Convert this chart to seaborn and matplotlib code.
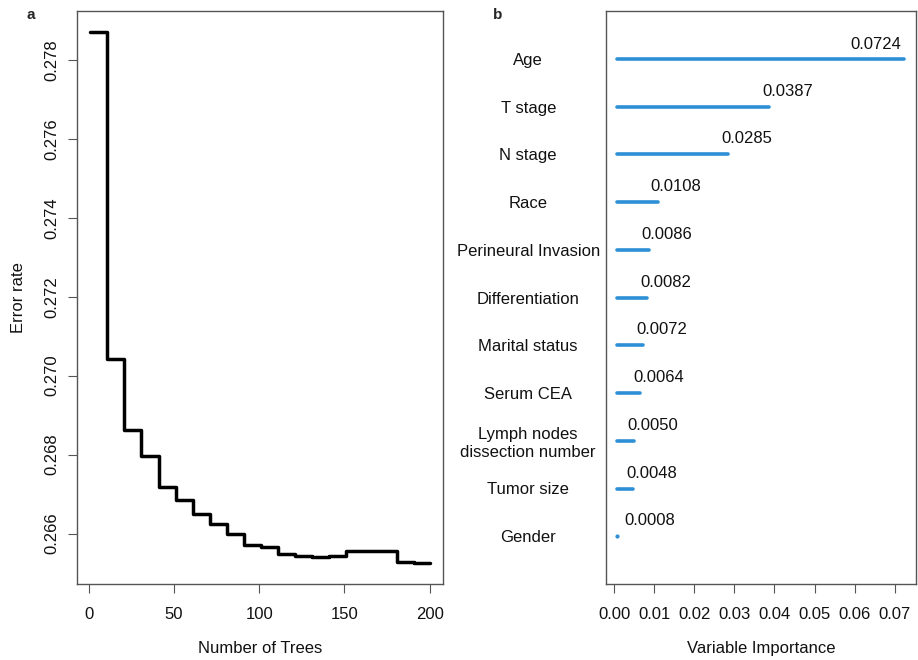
import numpy as np
import pandas as pd
import matplotlib
matplotlib.use("Agg")
import matplotlib.pyplot as plt
import seaborn as sns

# ---- data: panel a (error rate vs number of trees, step changes) ----
trees = [1, 11, 21, 31, 41, 51, 61, 71, 81, 91, 101, 111, 121, 131, 141,
         151, 161, 171, 181, 191, 200]
error_rate = [0.27870, 0.27042, 0.26862, 0.26797, 0.26719, 0.26684, 0.26650,
              0.26625, 0.26599, 0.26570, 0.26565, 0.26548, 0.26544, 0.26540,
              0.26543, 0.26557, 0.26557, 0.26555, 0.26529, 0.26526, 0.26526]
x_ticks_a = [0, 50, 100, 150, 200]
y_ticks_a = [0.266, 0.268, 0.270, 0.272, 0.274, 0.276, 0.278]

# ---- data: panel b (variable importance) ----
variables = ["Age", "T stage", "N stage", "Race", "Perineural Invasion",
             "Differentiation", "Marital status", "Serum CEA",
             "Lymph nodes\ndissection number", "Tumor size", "Gender"]
importance = [0.0724, 0.0387, 0.0285, 0.0108, 0.0086, 0.0082, 0.0072,
              0.0064, 0.0050, 0.0048, 0.0008]
x_ticks_b = [0.00, 0.01, 0.02, 0.03, 0.04, 0.05, 0.06, 0.07]

sns.set_theme(style="white")
plt.rcParams["font.family"] = ["Liberation Sans", "DejaVu Sans"]
plt.rcParams["font.size"] = 12

fig = plt.figure(figsize=(9.18, 6.6), dpi=100)
W, H = 918, 660

def ax_rect(x0, y0, x1, y1):
    return [x0 / W, (H - y1) / H, (x1 - x0) / W, (y1 - y0) / H]

frame_col = "#555555"
BLUE = "#2D8FD5"

# ---------------- panel a ----------------
axa = fig.add_axes(ax_rect(76.7, 11, 443.3, 584))
df_a = pd.DataFrame({"trees": trees, "err": error_rate})
sns.lineplot(data=df_a, x="trees", y="err", ax=axa, color="black",
             linewidth=2.5, drawstyle="steps-post", estimator=None)
xmin, xmax = 1, 200
r = xmax - xmin
axa.set_xlim(xmin - 0.04 * r, xmax + 0.04 * r)
ymin, ymax = min(error_rate), max(error_rate)
r = ymax - ymin
axa.set_ylim(ymin - 0.04 * r, ymax + 0.04 * r)
axa.set_xticks(x_ticks_a)
axa.set_xticklabels([str(v) for v in x_ticks_a])
axa.set_yticks(y_ticks_a)
axa.set_yticklabels([f"{v:.3f}" for v in y_ticks_a], rotation=90, va="center")
axa.tick_params(axis="both", which="major", length=6.5, width=0.8,
                color=frame_col, labelsize=12, labelcolor="#111111",
                direction="out", bottom=True, left=True)
axa.tick_params(axis="x", pad=10)
axa.tick_params(axis="y", pad=6)
axa.set_xlabel("Number of Trees", fontsize=12, labelpad=14, color="#111111")
axa.set_ylabel("Error rate", fontsize=12, labelpad=13, color="#111111")
for s in axa.spines.values():
    s.set_color(frame_col)
    s.set_linewidth(1.0)
axa.grid(False)

# ---------------- panel b ----------------
axb = fig.add_axes(ax_rect(606, 11, 915.7, 584))
pos = np.arange(1, len(variables) + 1)
base = min(importance)
lc = axb.hlines(pos, base, importance, color=BLUE, linewidth=2.6)
lc.set_capstyle("round")
axb.scatter([importance[-1]], [pos[-1]], s=4, color=BLUE, zorder=3)
xmin, xmax = min(importance), max(importance)
r = xmax - xmin
axb.set_xlim(xmin - 0.04 * r, xmax + 0.04 * r)
axb.set_ylim(len(variables) + 1, 0)
axb.set_xticks(x_ticks_b)
axb.set_xticklabels([f"{v:.2f}" for v in x_ticks_b])
axb.set_yticks(pos)
axb.set_yticklabels(variables)
for lab in axb.get_yticklabels():
    lab.set_horizontalalignment("center")
    lab.set_multialignment("center")
axb.tick_params(axis="y", length=0, pad=56, labelsize=12, labelcolor="#111111")
axb.tick_params(axis="x", length=6.5, width=0.8, color=frame_col, pad=10,
                labelsize=12, labelcolor="#111111", direction="out", bottom=True)
axb.set_xlabel("Variable Importance", fontsize=12, labelpad=14, color="#111111")
for s in axb.spines.values():
    s.set_color(frame_col)
    s.set_linewidth(1.0)
axb.grid(False)

for p, v in zip(pos, importance):
    txt = f"{v:.4f}"
    if v > 0.06:
        axb.annotate(txt, xy=(v, p), xytext=(-2, 10), textcoords="offset points",
                     ha="right", va="center", fontsize=12, color="#111111")
    elif v < 0.002:
        axb.annotate(txt, xy=(v, p), xytext=(5, 11), textcoords="offset points",
                     ha="left", va="center", fontsize=12, color="#111111")
    else:
        axb.annotate(txt, xy=(v, p), xytext=(-5, 11), textcoords="offset points",
                     ha="left", va="center", fontsize=12, color="#111111")

fig.text(31 / W, 1 - 15 / H, "a", fontsize=11, fontweight="bold", ha="center", va="center")
fig.text(497.7 / W, 1 - 15 / H, "b", fontsize=11, fontweight="bold", ha="center", va="center")

fig.savefig("out.png", dpi=100)
